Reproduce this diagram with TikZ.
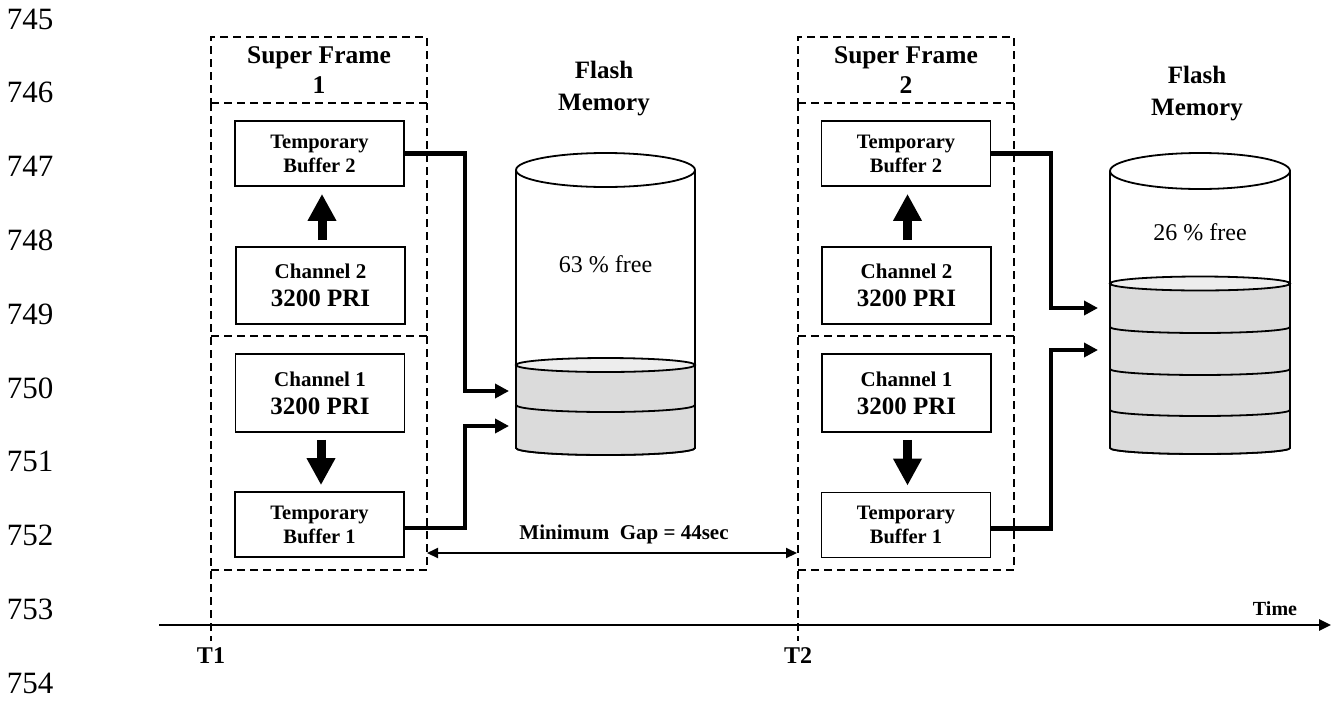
\documentclass[tikz,border=0pt]{standalone}
\usepackage{fontspec}
\setmainfont{Liberation Serif}
\usetikzlibrary{arrows.meta}
\begin{document}
\begin{tikzpicture}[x=1pt,y=-1pt,
  line join=miter,
  box/.style={draw, line width=1.8pt, inner sep=0pt, align=center, minimum width=169pt},
  tbox/.style={box, minimum height=65pt, font=\fontsize{20.5}{24}\selectfont\bfseries},
  cbox/.style={box, minimum height=77pt, font=\fontsize{21}{28}\selectfont\bfseries},
  hdr/.style={draw, line width=1.8pt, dash pattern=on 8pt off 5pt, inner sep=0pt, align=center,
              minimum width=216pt, minimum height=66pt, font=\fontsize{25.5}{30}\selectfont\bfseries},
  dline/.style={line width=1.8pt, dash pattern=on 8pt off 5pt},
  conn/.style={line width=4.5pt, -{Triangle[length=14pt,width=14pt]}},
  bigarrow/.style={line width=9pt, -{Triangle[length=27pt,width=27pt]}},
  gaparrow/.style={line width=2pt, {Triangle[length=11pt,width=10pt]}-{Triangle[length=11pt,width=10pt]}},
  timearrow/.style={line width=2.5pt, -{Triangle[length=12pt,width=11pt]}},
  cyl/.style={line width=1.8pt},
  cylfill/.style={fill=black!14},
  cyltop/.style={fill=black!7},
  lbl/.style={inner sep=0pt, align=center},
  lnum/.style={inner sep=0pt, font=\fontsize{31}{31}\selectfont}
]
\useasboundingbox (0,0) rectangle (1332,702);

% line numbers
\foreach \k/\n in {0/745,1/746,2/747,3/748,4/749,5/750,6/751,7/752,8/753,9/754}
  \node[lnum] (ln\n) at (30,{19+73.8*\k}) {\n};

% ---------- Super Frame 1 ----------
\node[hdr] (h1) at (319,70) {Super Frame\\1};
\draw[dline] (211,103) -- (211,641);
\draw[dline] (211,570) -- (427,570) -- (427,103);
\draw[dline] (211,336) -- (427,336);

\node[tbox] (tb2a) at (319.5,153.5) {Temporary\\Buffer 2};
\node[cbox] (ch2a) at (320.5,285.5) {Channel 2\\{\fontsize{25}{28}\selectfont 3200 PRI}};
\node[cbox, minimum height=78pt] (ch1a) at (320,393) {Channel 1\\{\fontsize{25}{28}\selectfont 3200 PRI}};
\node[tbox] (tb1a) at (319.5,524.5) {Temporary\\Buffer 1};

\draw[bigarrow, shorten <=6pt, shorten >=7pt] ([xshift=1.5pt]ch2a.north) -- ([xshift=2.5pt]tb2a.south);
\draw[bigarrow, shorten <=7pt, shorten >=6pt] ([xshift=1pt]ch1a.south) -- ([xshift=1.5pt]tb1a.north);

% ---------- Flash memory 1 ----------
\node[lbl, font=\fontsize{25}{32}\selectfont\bfseries] (fm1) at (604,89) {Flash\\Memory};
\draw[cyl, fill=white] (516,170) -- (516,448) arc[start angle=180,end angle=360,x radius=89.5pt,y radius=7pt] -- (695,170);
\fill[cylfill] (516,365) -- (516,448) arc[start angle=180,end angle=360,x radius=89.5pt,y radius=7pt] -- (695,365) -- cycle;
\filldraw[cyl, cyltop] (605.5,365) ellipse [x radius=89.5pt, y radius=7pt];
\draw[cyl] (516,405) arc[start angle=180,end angle=360,x radius=89.5pt,y radius=7pt];
\draw[cyl] (516,448) arc[start angle=180,end angle=360,x radius=89.5pt,y radius=7pt];
\draw[cyl] (516,170) -- (516,448) (695,170) -- (695,448);
\filldraw[cyl, fill=white] (605.5,170) ellipse [x radius=89.5pt, y radius=17pt];
\node[lbl, font=\fontsize{24}{24}\selectfont] (free1) at (605.5,264) {63 \% free};

\coordinate (in1a) at (509,391);
\coordinate (in1b) at (509,426);
\draw[conn] (tb2a.east) -| (465,391) -- (in1a);
\draw[conn] ([yshift=-3.5pt]tb1a.east) -| (465,426) -- (in1b);

% ---------- Super Frame 2 ----------
\node[hdr] (h2) at (906,70) {Super Frame\\2};
\draw[dline] (798,103) -- (798,641);
\draw[dline] (798,570) -- (1014,570) -- (1014,103);
\draw[dline] (798,336) -- (1014,336);

\node[tbox] (tb2b) at (906,153.5) {Temporary\\Buffer 2};
\node[cbox] (ch2b) at (906.5,285.5) {Channel 2\\{\fontsize{25}{28}\selectfont 3200 PRI}};
\node[cbox, minimum height=78pt] (ch1b) at (906.5,393) {Channel 1\\{\fontsize{25}{28}\selectfont 3200 PRI}};
\node[tbox] (tb1b) at (906,525) {Temporary\\Buffer 1};

\draw[bigarrow, shorten <=6pt, shorten >=7pt] ([xshift=1pt]ch2b.north) -- ([xshift=1.5pt]tb2b.south);
\draw[bigarrow, shorten <=7pt, shorten >=6pt] ([xshift=1pt]ch1b.south) -- ([xshift=1.5pt]tb1b.north);

% ---------- Flash memory 2 ----------
\node[lbl, font=\fontsize{25}{32}\selectfont\bfseries] (fm2) at (1197,94) {Flash\\Memory};
\draw[cyl, fill=white] (1110,171) -- (1110,448) arc[start angle=180,end angle=360,x radius=90pt,y radius=6pt] -- (1290,171);
\fill[cylfill] (1110,283.5) -- (1110,448) arc[start angle=180,end angle=360,x radius=90pt,y radius=6pt] -- (1290,283.5) -- cycle;
\filldraw[cyl, cyltop] (1200,283.5) ellipse [x radius=90pt, y radius=7pt];
\foreach \yy in {327,369,410,448}
  \draw[cyl] (1110,\yy) arc[start angle=180,end angle=360,x radius=90pt,y radius=6pt];
\draw[cyl] (1110,171) -- (1110,448) (1290,171) -- (1290,448);
\filldraw[cyl, fill=white] (1200,171) ellipse [x radius=90pt, y radius=18pt];
\node[lbl, font=\fontsize{24}{24}\selectfont] (free2) at (1200,232) {26 \% free};

\coordinate (in2a) at (1098,308);
\coordinate (in2b) at (1098,350);
\draw[conn] (tb2b.east) -| (1051,308) -- (in2a);
\draw[conn] ([yshift=-3.5pt]tb1b.east) -| (1051,350) -- (in2b);

% ---------- gap and time axis ----------
\coordinate (g1) at (427,553);
\coordinate (g2) at (797,553);
\draw[gaparrow] (g1) -- (g2);
\node[lbl, font=\fontsize{21}{21}\selectfont\bfseries] (gapl) at (624,534) {Minimum\ \ Gap = 44sec};

\coordinate (ta) at (159,625);
\coordinate (tz) at (1331,625);
\draw[timearrow] (ta) -- (tz);
\node[lbl, font=\fontsize{20}{20}\selectfont\bfseries] (time) at (1275,609) {Time};
\node[lbl, font=\fontsize{24}{24}\selectfont\bfseries] (T1) at (211,656) {T1};
\node[lbl, font=\fontsize{24}{24}\selectfont\bfseries] (T2) at (798,656) {T2};
\end{tikzpicture}
\end{document}
